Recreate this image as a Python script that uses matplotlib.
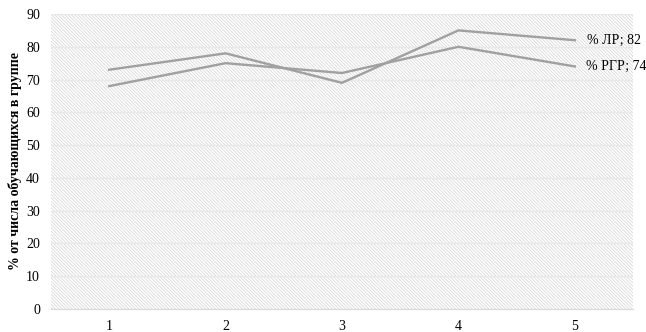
import matplotlib.pyplot as plt

# данные по занятиям
zanyatiya = [1, 2, 3, 4, 5]
lr = [73, 78, 69, 85, 82]    # % ЛР
rgr = [68, 75, 72, 80, 74]   # % РГР
yticks = [0, 10, 20, 30, 40, 50, 60, 70, 80, 90]

plt.rcParams['font.family'] = ['Liberation Serif', 'DejaVu Serif']
plt.rcParams['hatch.color'] = '#d2d2d2'
plt.rcParams['hatch.linewidth'] = 0.5

fig = plt.figure(figsize=(6.46, 3.32), dpi=100)
ax = fig.add_axes([51 / 646, 23 / 332, 582 / 646, 295 / 332])

# штриховка фона области построения
ax.patch.set_facecolor('white')
ax.patch.set_hatch('\\' * 10)
ax.patch.set_edgecolor('#d2d2d2')
ax.patch.set_linewidth(0)

ax.plot(zanyatiya, lr, color='#a0a0a0', linewidth=1.7, zorder=3)
ax.plot(zanyatiya, rgr, color='#a0a0a0', linewidth=1.7, zorder=3)

# подписи в конце линий
ax.annotate('% ЛР; ' + str(lr[-1]), (zanyatiya[-1], lr[-1]), xytext=(9, 0),
            textcoords='offset points', va='center', fontsize=10)
ax.annotate('% РГР; ' + str(rgr[-1]), (zanyatiya[-1], rgr[-1]), xytext=(8, 0),
            textcoords='offset points', va='center', fontsize=10)

ax.set_xlim(0.5, 5.5)
ax.set_ylim(0, 90)
ax.set_xticks(zanyatiya)
ax.set_yticks(yticks)
ax.tick_params(length=0, labelsize=10, labelcolor='black')
ax.tick_params(axis='x', pad=8)
ax.tick_params(axis='y', pad=8)
ax.grid(axis='y', color='#e8e8e8', linewidth=1, zorder=1)
ax.set_axisbelow(True)

for s in ['top', 'right', 'left']:
    ax.spines[s].set_visible(False)
ax.spines['bottom'].set_color('#d9d9d9')

ax.set_ylabel('% от числа обучающихся в группе', fontsize=10, fontweight='bold')
ax.yaxis.set_label_coords(-0.05, 0.5)

fig.savefig('out.png', dpi=100)
